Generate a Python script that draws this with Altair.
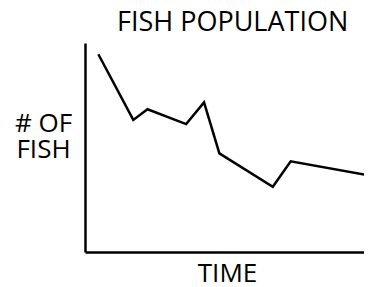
import altair as alt
import pandas as pd

time = [4.7, 17.0, 22.0, 35.6, 41.9, 47.3, 66.1, 72.4, 101.0]
fish = [94.6, 63.2, 68.3, 61.2, 71.6, 47.2, 31.2, 43.4, 36.4]

df = pd.DataFrame({"time": time, "fish": fish})

FONT = "Open Sans"

chart = alt.Chart(df).mark_line(color="black", strokeWidth=2.5, strokeJoin="miter").encode(
    x=alt.X("time:Q", scale=alt.Scale(domain=[0, 98.2], nice=False, zero=False),
            axis=alt.Axis(title="TIME", ticks=False, labels=False, grid=False,
                          domainColor="black", domainWidth=2.5,
                          titleFont=FONT, titleFontSize=26, titleFontWeight="normal",
                          titleColor="black", titleBaseline="alphabetic",
                          titleX=142, titleY=29.7, titleAlign="center")),
    y=alt.Y("fish:Q", scale=alt.Scale(domain=[0, 100], nice=False, zero=False),
            axis=alt.Axis(title=["# OF", "FISH"], ticks=False, labels=False, grid=False,
                          domainColor="black", domainWidth=2.5,
                          titleFont=FONT, titleFontSize=26, titleFontWeight="normal",
                          titleColor="black", titleAngle=0, titleBaseline="alphabetic",
                          titleAlign="center", titleX=-42, titleY=88.7,
                          titleLineHeight=26)),
).properties(
    width=279, height=209,
    title=alt.TitleParams("FISH POPULATION", font=FONT, fontSize=27, fontWeight="normal",
                          color="black", anchor="start", frame="group", dx=32, offset=6),
    autosize=alt.AutoSizeParams(type="none"),
    padding={"left": 77, "top": 35, "right": 0, "bottom": 32},
).configure_view(stroke=None)

chart.save("out.html", embed_options={"renderer": "svg", "actions": False})
